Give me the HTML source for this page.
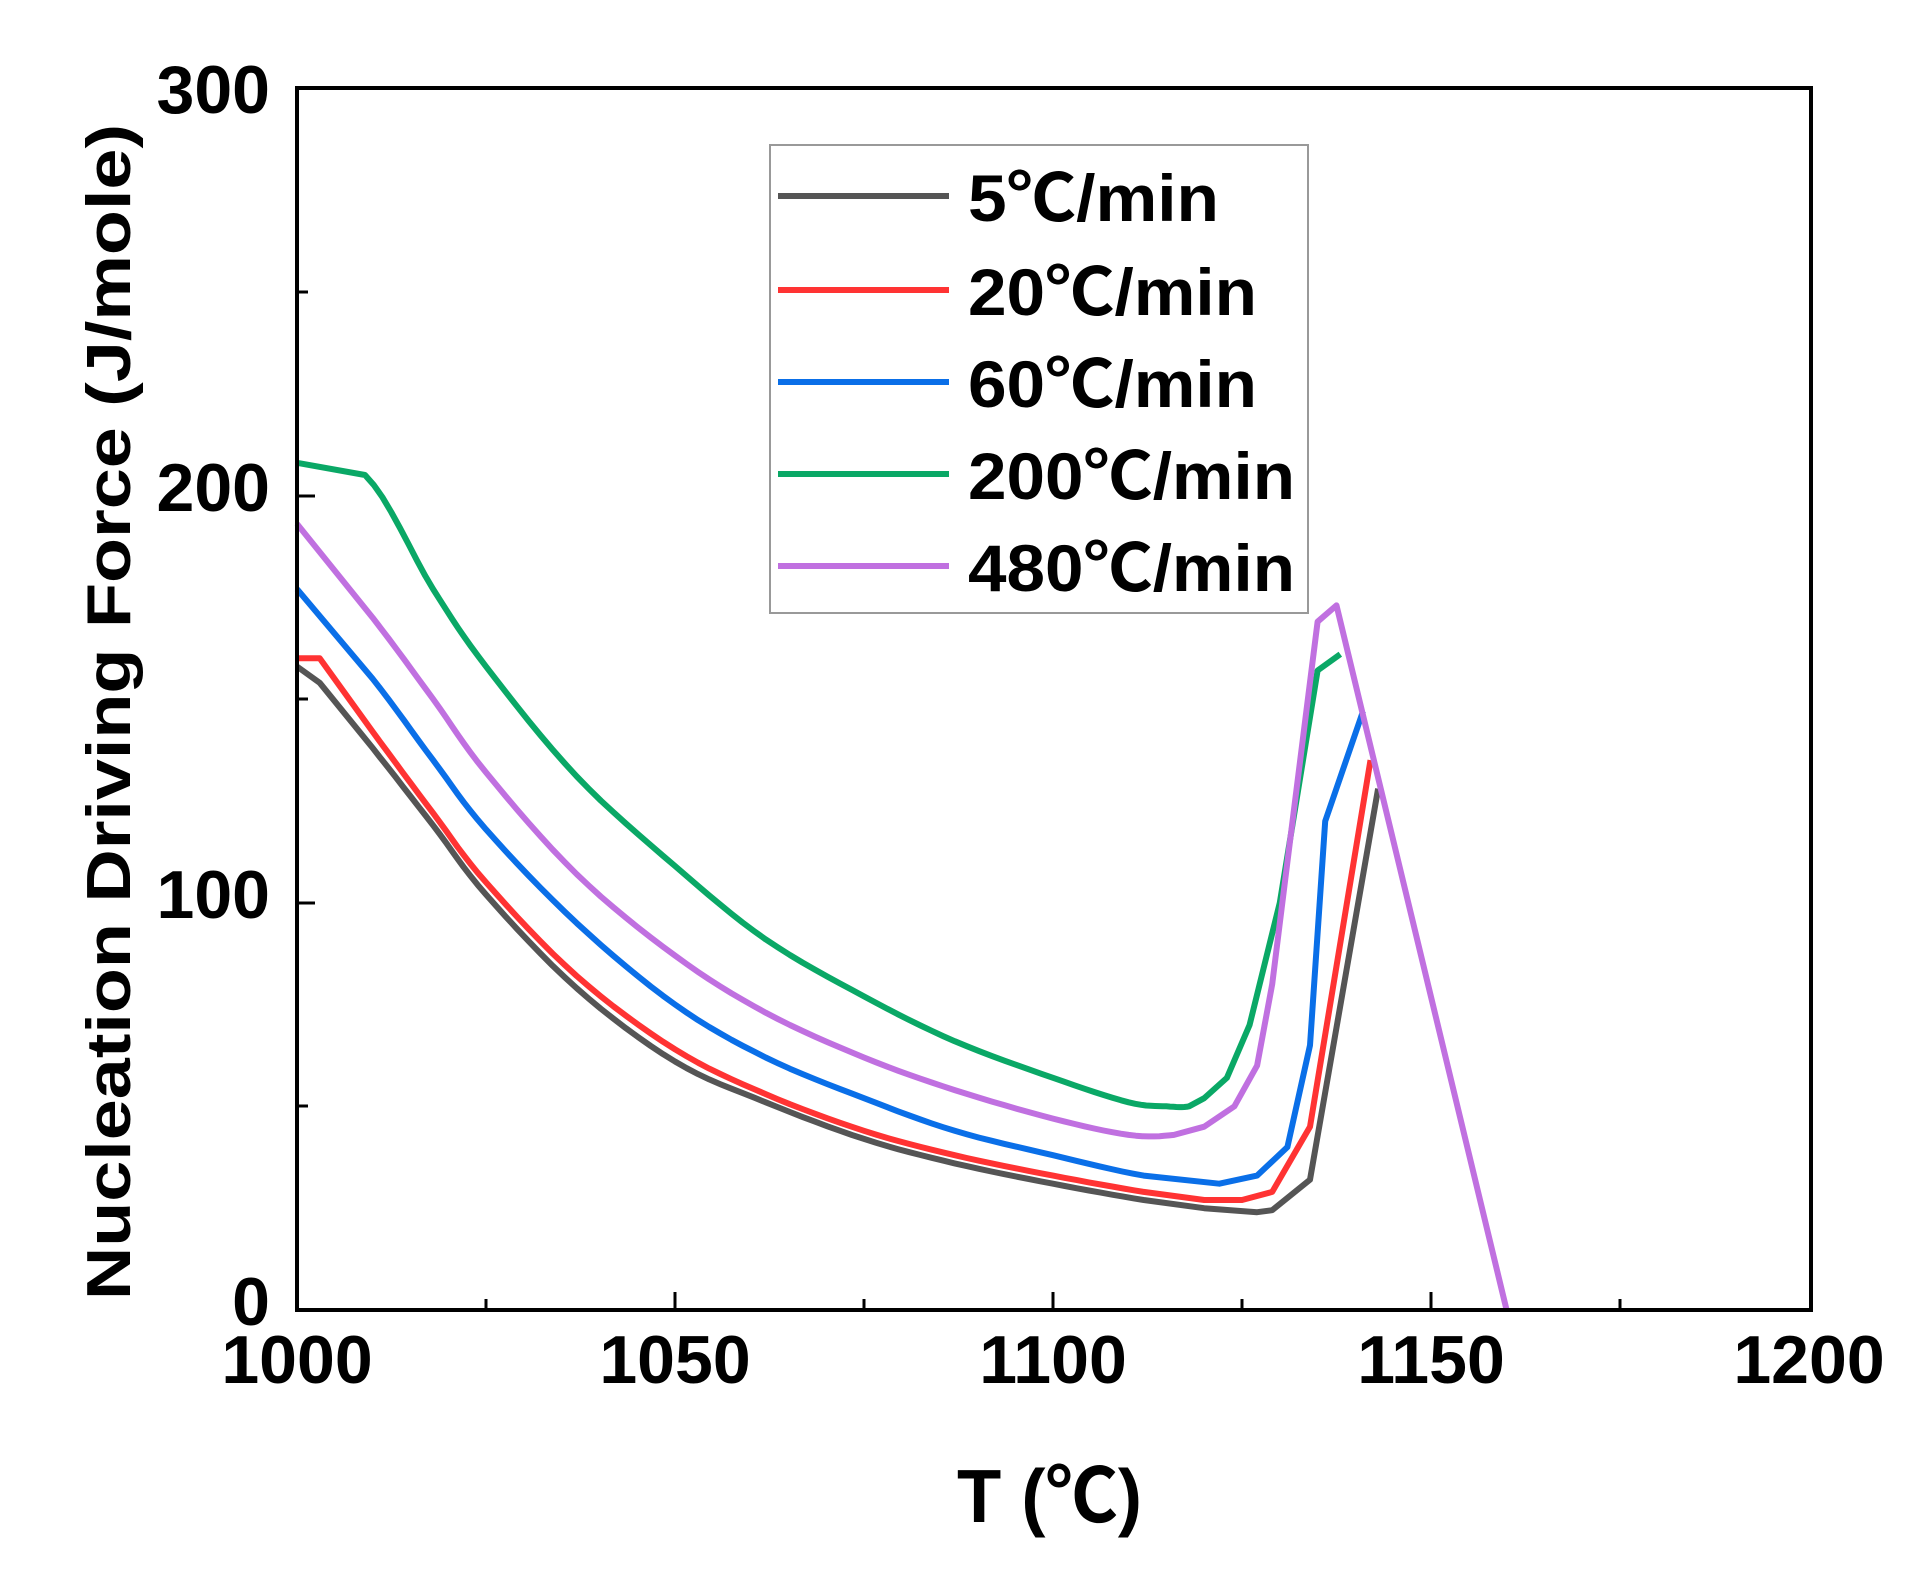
<!DOCTYPE html>
<html><head><meta charset="utf-8"><style>html,body{margin:0;padding:0;background:#fff}</style></head>
<body>
<svg id="s" width="1921" height="1577" xmlns="http://www.w3.org/2000/svg" font-family="Liberation Sans, Noto Sans CJK SC, sans-serif" font-weight="bold">
<rect x="0" y="0" width="1921" height="1577" fill="#fff"/>
<g id="curves" fill="none" stroke-width="6" stroke-linejoin="round"></g>
<rect x="297" y="88" width="1514" height="1222" fill="none" stroke="#000" stroke-width="4"/>
<g stroke="#000" stroke-width="3">
<line x1="297" y1="1310" x2="297" y2="1292"/>
<line x1="486" y1="1310" x2="486" y2="1299"/>
<line x1="675" y1="1310" x2="675" y2="1292"/>
<line x1="864" y1="1310" x2="864" y2="1299"/>
<line x1="1053" y1="1310" x2="1053" y2="1292"/>
<line x1="1242" y1="1310" x2="1242" y2="1299"/>
<line x1="1431" y1="1310" x2="1431" y2="1292"/>
<line x1="1620" y1="1310" x2="1620" y2="1299"/>
<line x1="297" y1="1106" x2="308" y2="1106"/>
<line x1="297" y1="903" x2="315" y2="903"/>
<line x1="297" y1="699" x2="308" y2="699"/>
<line x1="297" y1="496" x2="315" y2="496"/>
<line x1="297" y1="292" x2="308" y2="292"/>
</g>
<g font-size="68" text-anchor="middle">
<text x="297" y="1383">1000</text>
<text x="675" y="1383">1050</text>
<text x="1053" y="1383">1100</text>
<text x="1431" y="1383">1150</text>
<text x="1809" y="1383">1200</text>
</g>
<g font-size="68" text-anchor="end">
<text x="270" y="1325">0</text>
<text x="270" y="918">100</text>
<text x="270" y="511">200</text>
<text x="270" y="113">300</text>
</g>
<text x="957" y="1522" font-size="75" textLength="185" lengthAdjust="spacingAndGlyphs">T (℃)</text>
<text transform="translate(130,712) rotate(-90)" text-anchor="middle" font-size="62" textLength="1176" lengthAdjust="spacingAndGlyphs">Nucleation Driving Force (J/mole)</text>
<rect x="770" y="145" width="538" height="468" fill="#fff" stroke="#999" stroke-width="2"/>
<g stroke-width="6">
<line x1="778" y1="196" x2="949" y2="196" stroke="#555"/>
<line x1="778" y1="290" x2="949" y2="290" stroke="#f33"/>
<line x1="778" y1="382" x2="949" y2="382" stroke="#0a6fe8"/>
<line x1="778" y1="474" x2="949" y2="474" stroke="#0aa866"/>
<line x1="778" y1="566" x2="949" y2="566" stroke="#c070e0"/>
</g>
<g font-size="66">
<text x="968" y="221" textLength="251" lengthAdjust="spacingAndGlyphs">5℃/min</text>
<text x="968" y="315" textLength="289" lengthAdjust="spacingAndGlyphs">20℃/min</text>
<text x="968" y="407" textLength="289" lengthAdjust="spacingAndGlyphs">60℃/min</text>
<text x="968" y="499" textLength="327" lengthAdjust="spacingAndGlyphs">200℃/min</text>
<text x="968" y="591" textLength="327" lengthAdjust="spacingAndGlyphs">480℃/min</text>
</g>
</svg>
<script>
var D={
"#555":[[1000,158],[1003,154],[1010,138],[1018,119],[1025,102],[1037,79],[1050,61],[1062,51],[1075,42],[1087,36],[1100,31],[1112,27],[1120,25],[1127,24],[1129,24.5],[1134,32],[1143,128]],
"#f33":[[1000,160],[1003,160],[1010,142],[1018,122],[1025,105],[1037,82],[1050,64],[1062,53],[1075,44],[1087,38],[1100,33],[1112,29],[1120,27],[1125,27],[1129,29],[1134,45],[1142,135]],
"#0a6fe8":[[1000,177],[1010,155],[1018,135],[1025,118],[1037,95],[1050,75],[1062,62],[1075,52],[1087,44],[1100,38],[1112,33],[1122,31],[1127,33],[1131,40],[1134,65],[1136,120],[1141,147]],
"#0aa866":[[1000,208],[1009,205],[1018,177],[1025,158],[1037,131],[1050,109],[1062,91],[1075,77],[1087,66],[1100,57],[1110,51],[1115,50],[1118,50],[1120,52],[1123,57],[1126,70],[1130,100],[1135,157],[1138,161]],
"#c070e0":[[1000,193],[1010,170],[1018,150],[1025,132],[1037,107],[1050,87],[1062,73],[1075,62],[1087,54],[1100,47],[1110,43],[1116,43],[1120,45],[1124,50],[1127,60],[1129,80],[1131,110],[1135,169],[1137.5,173],[1160,0]]};
function smooth(a){var o=[a[0]];for(var i=0;i<a.length-1;i++){var p0=a[Math.max(i-1,0)],p1=a[i],p2=a[i+1],p3=a[Math.min(i+2,a.length-1)];
 if(p1[0]>=1005&&p2[0]<=1118&&i>0){for(var k=1;k<8;k++){var t=k/8,t2=t*t,t3=t2*t;var f=function(j){return 0.5*((2*p1[j])+(-p0[j]+p2[j])*t+(2*p0[j]-5*p1[j]+4*p2[j]-p3[j])*t2+(-p0[j]+3*p1[j]-3*p2[j]+p3[j])*t3)};o.push([f(0),f(1)]);}}
 o.push(p2);}return o;}
var g=document.getElementById("curves"),h="";
for(var c in D){var p=smooth(D[c]).map(function(a){return (297+(a[0]-1000)*7.56).toFixed(1)+","+(1310-a[1]*4.073).toFixed(1)}).join(" ");
h+='<polyline stroke="'+c+'" points="'+p+'"/>';}
g.innerHTML=h;
</script>
</body></html>
